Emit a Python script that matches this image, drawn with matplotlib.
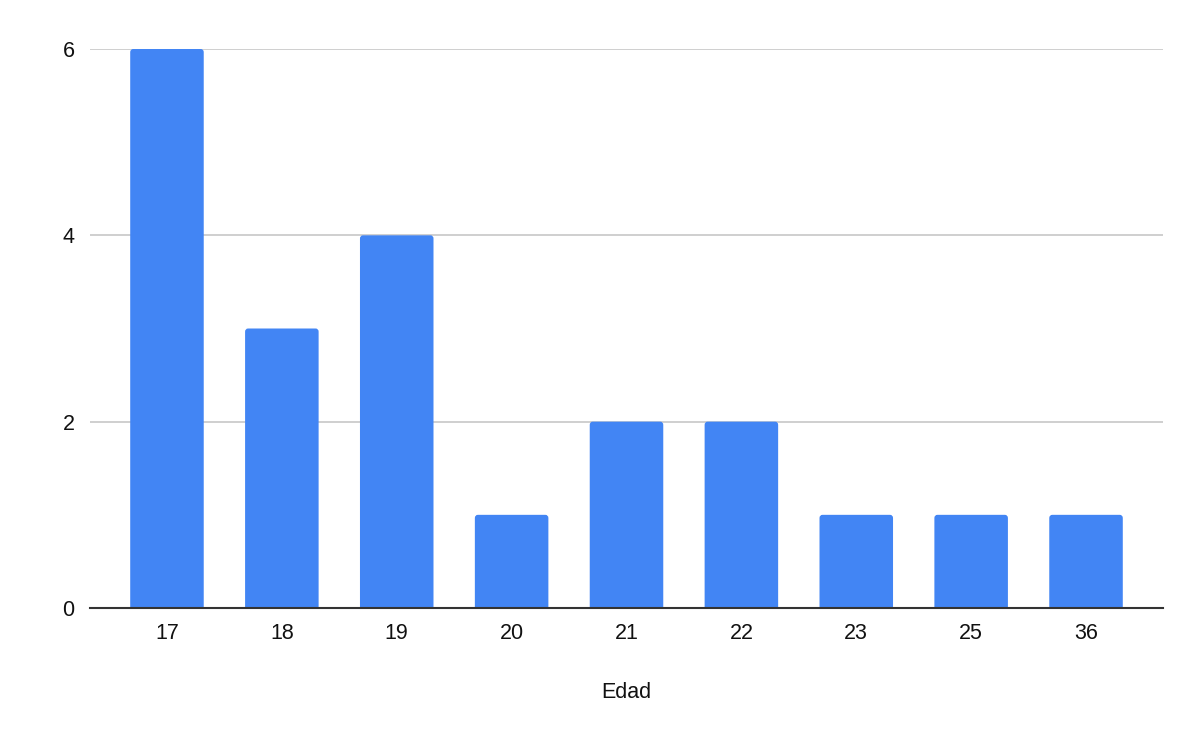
import matplotlib
matplotlib.use("Agg")
import matplotlib.pyplot as plt
from matplotlib.patches import FancyBboxPatch

categories = ["17", "18", "19", "20", "21", "22", "23", "25", "36"]
values = [6, 3, 4, 1, 2, 2, 1, 1, 1]
yticks = [0, 2, 4, 6]
xlabel = "Edad"

plt.rcParams['font.family'] = ['Liberation Sans', 'DejaVu Sans']

fig = plt.figure(figsize=(12, 7.41), dpi=100)
ax = fig.add_axes([90/1200, 1-608/741, (1163-90)/1200, (608-49)/741])

x = list(range(len(categories)))
bars = ax.bar(x, values, width=0.64, color="#4285F4", zorder=3)
ax.set_xlim(-0.67, len(categories) - 1 + 0.67)
ax.set_ylim(0, 6)

# rounded top corners
rx = 0.026
ry = 0.034
for b in bars:
    b.set_visible(False)
    x0, w, h = b.get_x(), b.get_width(), b.get_height()
    p = FancyBboxPatch((x0, -0.1), w, h + 0.1,
                       boxstyle=f"round,pad=0,rounding_size={rx}",
                       mutation_aspect=ry / rx,
                       facecolor="#4285F4", edgecolor="none", zorder=3)
    ax.add_patch(p)

ax.set_yticks(yticks)
ax.set_yticklabels([str(t) for t in yticks])
ax.set_xticks(x)
ax.set_xticklabels(categories)
ax.grid(axis='y', color="#cccccc", linewidth=1.3, zorder=0)
for s in ['top', 'right', 'left']:
    ax.spines[s].set_visible(False)
ax.spines['bottom'].set_color("#333333")
ax.spines['bottom'].set_linewidth(1.5)
ax.spines['bottom'].set_zorder(4)
ax.tick_params(axis='both', length=0, labelsize=15.5, colors="#111111")
ax.tick_params(axis='x', pad=11)
ax.tick_params(axis='y', pad=11)
ax.set_xlabel(xlabel, fontsize=15.5, color="#111111", labelpad=27)

fig.savefig("out.png", dpi=100, facecolor="white")
